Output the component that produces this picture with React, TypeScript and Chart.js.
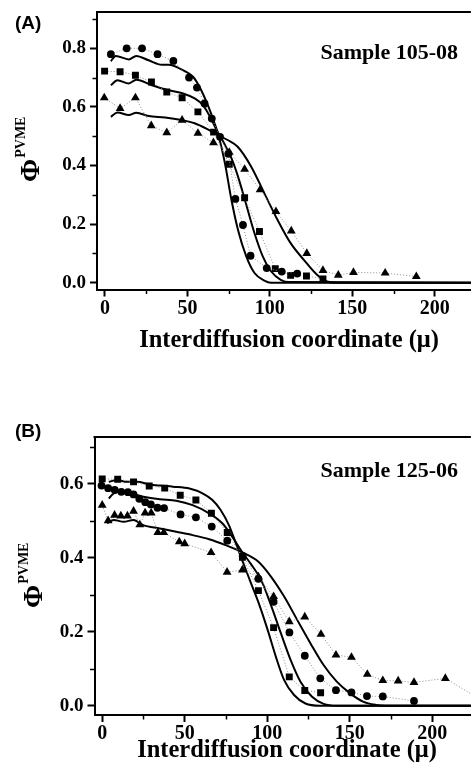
import { useEffect, useRef } from "react";
import { Chart, registerables } from "chart.js";

Chart.register(...registerables);

// ---------------- data ----------------
const X_TICKS = [0, 50, 100, 150, 200];
const X_MINOR_TICKS = [25, 75, 125, 175, 225];
const A_Y_TICKS = [0, 0.2, 0.4, 0.6, 0.8];
const A_Y_MINOR_TICKS = [0.1, 0.3, 0.5, 0.7, 0.9];
const B_Y_TICKS = [0, 0.2, 0.4, 0.6];
const B_Y_MINOR_TICKS = [0.1, 0.3, 0.5, 0.7];

const X_TITLE = "Interdiffusion coordinate (\u03BC)";
const Y_TITLE_MAIN = "\u03A6";
const Y_TITLE_SUP = "PVME";
const A_SAMPLE = "Sample 105-08";
const B_SAMPLE = "Sample 125-06";

// Panel A measured points
const A_CIRCLE_X = [3.6, 13.2, 22.5, 31.9, 41.5, 51, 55.8, 60.4, 64.8, 69.8, 74.8, 79.1, 83.7, 88.3, 98.1, 107.2, 116.6];
const A_CIRCLE_Y = [0.78, 0.8, 0.8, 0.78, 0.757, 0.7, 0.666, 0.612, 0.56, 0.498, 0.44, 0.286, 0.197, 0.092, 0.05, 0.038, 0.031];
const A_SQUARE_X = [-0.2, 9.2, 18.5, 28.2, 37.5, 46.8, 56.4, 65.9, 75.4, 84.7, 93.7, 103.3, 112.6, 122.2, 132.2];
const A_SQUARE_Y = [0.722, 0.72, 0.708, 0.685, 0.651, 0.631, 0.583, 0.514, 0.404, 0.29, 0.175, 0.048, 0.025, 0.023, 0.013];
const A_TRIANGLE_X = [-0.4, 9.2, 18.5, 28.1, 37.5, 46.8, 56.4, 65.8, 75.4, 84.7, 94.1, 103.7, 113, 122.4, 132.2, 141.5, 150.7, 169.9, 188.8];
const A_TRIANGLE_Y = [0.631, 0.595, 0.631, 0.536, 0.512, 0.555, 0.51, 0.478, 0.445, 0.387, 0.317, 0.243, 0.177, 0.1, 0.042, 0.026, 0.035, 0.033, 0.021];

// Panel A fitted curves
const A_FIT1_X = [3.6, 6.6, 14.5, 19, 26.5, 34.5, 38.5, 48.4, 53.4, 57.4, 62.4, 66.4, 69, 72.8, 76.7, 80.7, 85.7, 90.7, 96.7, 100.7, 230];
const A_FIT1_Y = [0.756, 0.774, 0.762, 0.774, 0.759, 0.744, 0.744, 0.722, 0.703, 0.668, 0.606, 0.545, 0.5, 0.407, 0.283, 0.18, 0.09, 0.033, 0.007, 0, 0];
const A_FIT2_X = [3.6, 7.6, 14.5, 19, 28.5, 38.5, 47.4, 54.4, 59.4, 63.4, 67.4, 72.8, 76.7, 80.7, 85.7, 90.7, 95.7, 100.7, 106.6, 111.6, 230];
const A_FIT2_Y = [0.674, 0.691, 0.68, 0.693, 0.674, 0.657, 0.646, 0.629, 0.606, 0.57, 0.525, 0.47, 0.425, 0.362, 0.266, 0.169, 0.09, 0.039, 0.01, 0.002, 0];
const A_FIT3_X = [3.6, 7.6, 14.5, 19, 26.5, 36.5, 46.5, 54.4, 62.4, 68.4, 74.4, 80.5, 88.7, 96.7, 104.7, 112.6, 120.6, 128.6, 134.6, 140, 230];
const A_FIT3_Y = [0.566, 0.581, 0.572, 0.58, 0.569, 0.564, 0.555, 0.544, 0.523, 0.504, 0.487, 0.464, 0.396, 0.305, 0.214, 0.135, 0.078, 0.027, 0.004, 0, 0];

// Panel B measured points
const B_SQUARE_X = [0, 9.4, 19, 28.5, 37.9, 47.3, 56.8, 66.2, 75.8, 85, 94.7, 103.9, 113.4, 122.8, 132.4];
const B_SQUARE_Y = [0.613, 0.612, 0.605, 0.594, 0.588, 0.569, 0.556, 0.52, 0.468, 0.401, 0.311, 0.211, 0.078, 0.041, 0.035];
const B_CIRCLE_X = [-0.4, 3.6, 7.6, 11.6, 15.6, 19, 22.5, 26.1, 29.5, 33.5, 37.5, 47.5, 56.8, 66.4, 75.8, 85.2, 94.7, 103.9, 113.5, 122.8, 132.2, 141.7, 151.1, 160.5, 170.1, 189];
const B_CIRCLE_Y = [0.595, 0.588, 0.583, 0.578, 0.577, 0.571, 0.559, 0.55, 0.544, 0.535, 0.534, 0.517, 0.509, 0.484, 0.446, 0.405, 0.343, 0.281, 0.198, 0.135, 0.074, 0.042, 0.036, 0.026, 0.025, 0.013];
const B_TRIANGLE_X = [0, 3.6, 7.5, 11.3, 15.3, 19, 22.8, 26, 29.7, 33.7, 37.3, 46.7, 50, 66, 75.7, 85, 94.7, 103.9, 113.4, 122.8, 132.6, 141.7, 151.1, 160.7, 170.1, 179.4, 189, 208, 228];
const B_TRIANGLE_Y = [0.542, 0.5, 0.515, 0.513, 0.513, 0.526, 0.489, 0.521, 0.521, 0.468, 0.468, 0.443, 0.438, 0.414, 0.361, 0.367, 0.348, 0.295, 0.227, 0.24, 0.193, 0.137, 0.131, 0.085, 0.068, 0.067, 0.063, 0.074, 0.02];

// Panel B fitted curves
const B_FIT1_X = [4, 9, 15, 21, 28.9, 34.9, 42.9, 52.9, 60.8, 66.8, 71.8, 76.8, 80.7, 84.7, 90.3, 95.3, 100.3, 105.3, 110.3, 116.3, 123.2, 132, 230];
const B_FIT1_Y = [0.605, 0.61, 0.605, 0.605, 0.598, 0.595, 0.592, 0.587, 0.574, 0.556, 0.529, 0.488, 0.443, 0.395, 0.33, 0.272, 0.205, 0.132, 0.069, 0.029, 0.006, 0, 0];
const B_FIT2_X = [4, 7, 11, 17, 24.9, 34.9, 44.9, 54.8, 64.8, 72.8, 78.8, 84.7, 90.3, 96.3, 102.3, 108.3, 114.2, 120.2, 127.2, 134.2, 142.2, 230];
const B_FIT2_Y = [0.56, 0.574, 0.578, 0.574, 0.565, 0.558, 0.554, 0.542, 0.52, 0.493, 0.457, 0.416, 0.382, 0.34, 0.272, 0.196, 0.124, 0.065, 0.024, 0.005, 0, 0];
const B_FIT3_X = [3, 7, 13, 19, 24.9, 34.9, 44.9, 54.8, 64.8, 74.8, 84.7, 94.7, 102.3, 110.3, 118.2, 126.2, 134.2, 142.2, 150.1, 158.1, 166.1, 172, 230];
const B_FIT3_Y = [0.493, 0.502, 0.497, 0.502, 0.488, 0.479, 0.47, 0.461, 0.45, 0.434, 0.415, 0.389, 0.349, 0.295, 0.232, 0.169, 0.11, 0.065, 0.034, 0.011, 0.002, 0, 0];

// ---------------- layout ----------------
const SERIF = "'Liberation Serif', 'Times New Roman', serif";
const SANS = "'Liberation Sans', Arial, sans-serif";

type Series = { x: number[]; y: number[]; style?: string; radius?: number };

type Panel = {
  height: number;
  left: number;
  top: number;
  bottom: number;
  xMin: number;
  xMax: number;
  yMin: number;
  yMax: number;
  yTicks: number[];
  yMinor: number[];
  tag: string;
  tagX: number;
  tagY: number;
  sample: string;
  sampleRight: number;
  sampleY: number;
  phiX: number;
  phiY: number;
  titleX: number;
  titleY: number;
  marks: Series[];
  fits: Series[];
};

const PANEL_A: Panel = {
  height: 380,
  left: 97,
  top: 12,
  bottom: 289.5,
  xMin: -4.8,
  xMax: 221.9,
  yMin: -0.0232,
  yMax: 0.9239,
  yTicks: A_Y_TICKS,
  yMinor: A_Y_MINOR_TICKS,
  tag: "(A)",
  tagX: 15,
  tagY: 29,
  sample: A_SAMPLE,
  sampleRight: 458,
  sampleY: 58.5,
  phiX: 39,
  phiY: 182,
  titleX: 289,
  titleY: 347,
  marks: [
    { x: A_CIRCLE_X, y: A_CIRCLE_Y, style: "circle", radius: 3.9 },
    { x: A_SQUARE_X, y: A_SQUARE_Y, style: "rect", radius: 4.9 },
    { x: A_TRIANGLE_X, y: A_TRIANGLE_Y, style: "triangle", radius: 5.1 },
  ],
  fits: [
    { x: A_FIT1_X, y: A_FIT1_Y },
    { x: A_FIT2_X, y: A_FIT2_Y },
    { x: A_FIT3_X, y: A_FIT3_Y },
  ],
};

const PANEL_B: Panel = {
  height: 391,
  left: 94.5,
  top: 57,
  bottom: 335,
  xMin: -4.665,
  xMax: 223.5,
  yMin: -0.0251,
  yMax: 0.7262,
  yTicks: B_Y_TICKS,
  yMinor: B_Y_MINOR_TICKS,
  tag: "(B)",
  tagX: 15,
  tagY: 57,
  sample: B_SAMPLE,
  sampleRight: 458,
  sampleY: 96.5,
  phiX: 42,
  phiY: 228,
  titleX: 287,
  titleY: 377,
  marks: [
    { x: B_SQUARE_X, y: B_SQUARE_Y, style: "rect", radius: 4.9 },
    { x: B_CIRCLE_X, y: B_CIRCLE_Y, style: "circle", radius: 3.9 },
    { x: B_TRIANGLE_X, y: B_TRIANGLE_Y, style: "triangle", radius: 5.1 },
  ],
  fits: [
    { x: B_FIT1_X, y: B_FIT1_Y },
    { x: B_FIT2_X, y: B_FIT2_Y },
    { x: B_FIT3_X, y: B_FIT3_Y },
  ],
};

function toPoints(xs: number[], ys: number[]) {
  return xs.map((x, i) => ({ x, y: ys[i] }));
}

function framePlugin(p: Panel) {
  return {
    id: "frame",
    afterDraw(chart: any) {
      const { ctx, chartArea, scales } = chart;
      const sx = scales.x;
      const sy = scales.y;
      ctx.save();
      ctx.strokeStyle = "#000";
      ctx.fillStyle = "#000";
      // top frame line
      ctx.lineWidth = 2;
      ctx.beginPath();
      ctx.moveTo(chartArea.left - 1, Math.round(chartArea.top));
      ctx.lineTo(chartArea.right, Math.round(chartArea.top));
      ctx.stroke();
      // minor ticks
      ctx.lineWidth = 1.5;
      ctx.beginPath();
      for (const v of X_MINOR_TICKS) {
        const px = Math.round(sx.getPixelForValue(v)) + 0.5;
        if (px < chartArea.left || px > chartArea.right) continue;
        ctx.moveTo(px, chartArea.bottom);
        ctx.lineTo(px, chartArea.bottom + 4.5);
      }
      for (const v of p.yMinor) {
        const py = Math.round(sy.getPixelForValue(v)) + 0.5;
        if (py < chartArea.top || py > chartArea.bottom) continue;
        ctx.moveTo(chartArea.left, py);
        ctx.lineTo(chartArea.left - 4.5, py);
      }
      ctx.stroke();
      // panel tag
      ctx.textBaseline = "alphabetic";
      ctx.textAlign = "left";
      ctx.font = `bold 19px ${SANS}`;
      ctx.fillText(p.tag, p.tagX, p.tagY);
      // sample label
      ctx.textAlign = "right";
      ctx.font = `bold 22px ${SERIF}`;
      ctx.fillText(p.sample, p.sampleRight, p.sampleY);
      // x title
      ctx.textAlign = "center";
      ctx.font = `bold 24.5px ${SERIF}`;
      ctx.fillText(X_TITLE, p.titleX, p.titleY);
      // y title (rotated, with superscript)
      ctx.translate(p.phiX, p.phiY);
      ctx.rotate(-Math.PI / 2);
      ctx.textAlign = "left";
      ctx.font = `bold 28px ${SERIF}`;
      ctx.fillText(Y_TITLE_MAIN, 0, 0);
      const w = ctx.measureText(Y_TITLE_MAIN).width;
      ctx.font = `bold 14px ${SERIF}`;
      ctx.fillText(Y_TITLE_SUP, w + 1, -14);
      ctx.restore();
    },
  };
}

function buildConfig(p: Panel): any {
  const datasets: any[] = [];
  for (const f of p.fits) {
    datasets.push({
      data: toPoints(f.x, f.y),
      borderColor: "#000",
      borderWidth: 2,
      pointRadius: 0,
      fill: false,
      cubicInterpolationMode: "monotone",
      order: 2,
    });
  }
  for (const m of p.marks) {
    datasets.push({
      data: toPoints(m.x, m.y),
      borderColor: "#8c8c8c",
      borderWidth: 1,
      borderDash: [1, 2],
      pointStyle: m.style,
      pointRadius: m.radius,
      pointBackgroundColor: "#000",
      pointBorderColor: "#000",
      pointBorderWidth: 0,
      fill: false,
      tension: 0,
      order: 1,
    });
  }
  const tickFont = (size: number) => ({ family: SERIF, size, weight: "bold" as const });
  return {
    type: "line",
    data: { datasets },
    plugins: [framePlugin(p)],
    options: {
      animation: false,
      responsive: false,
      events: [],
      layout: { padding: { top: p.top, left: 0, right: 0, bottom: 0 } },
      plugins: { legend: { display: false }, tooltip: { enabled: false } },
      scales: {
        x: {
          type: "linear",
          min: p.xMin,
          max: p.xMax,
          afterBuildTicks: (s: any) => {
            s.ticks = X_TICKS.map((v) => ({ value: v }));
          },
          afterFit: (s: any) => {
            s.height = p.height - p.bottom;
            s.paddingLeft = 0;
            s.paddingRight = 0;
          },
          grid: { display: true, drawOnChartArea: false, drawTicks: true, tickLength: 7, tickWidth: 2, tickColor: "#000" },
          border: { display: true, color: "#000", width: 2 },
          ticks: {
            color: "#000",
            font: tickFont(20),
            padding: 0,
            maxRotation: 0,
            autoSkip: false,
            callback: (v: any) => String(v),
          },
        },
        y: {
          type: "linear",
          min: p.yMin,
          max: p.yMax,
          afterBuildTicks: (s: any) => {
            s.ticks = p.yTicks.map((v) => ({ value: v }));
          },
          afterFit: (s: any) => {
            s.width = p.left;
            s.paddingTop = 0;
            s.paddingBottom = 0;
          },
          grid: { display: true, drawOnChartArea: false, drawTicks: true, tickLength: 7, tickWidth: 2, tickColor: "#000" },
          border: { display: true, color: "#000", width: 2 },
          ticks: {
            color: "#000",
            font: tickFont(19),
            padding: 4,
            autoSkip: false,
            callback: (v: any) => Number(v).toFixed(1),
          },
        },
      },
    },
  };
}

function PanelChart({ panel, top }: { panel: Panel; top: number }) {
  const ref = useRef<HTMLCanvasElement | null>(null);
  useEffect(() => {
    if (!ref.current) return;
    const chart = new Chart(ref.current, buildConfig(panel));
    return () => chart.destroy();
  }, [panel]);
  return (
    <canvas
      ref={ref}
      width={476}
      height={panel.height}
      style={{ position: "absolute", left: 0, top, width: 476, height: panel.height, display: "block" }}
    />
  );
}

export default function App() {
  return (
    <div style={{ position: "absolute", left: 0, top: 0, width: 476, height: 771, background: "#fff", overflow: "hidden" }}>
      <PanelChart panel={PANEL_A} top={0} />
      <PanelChart panel={PANEL_B} top={380} />
    </div>
  );
}
